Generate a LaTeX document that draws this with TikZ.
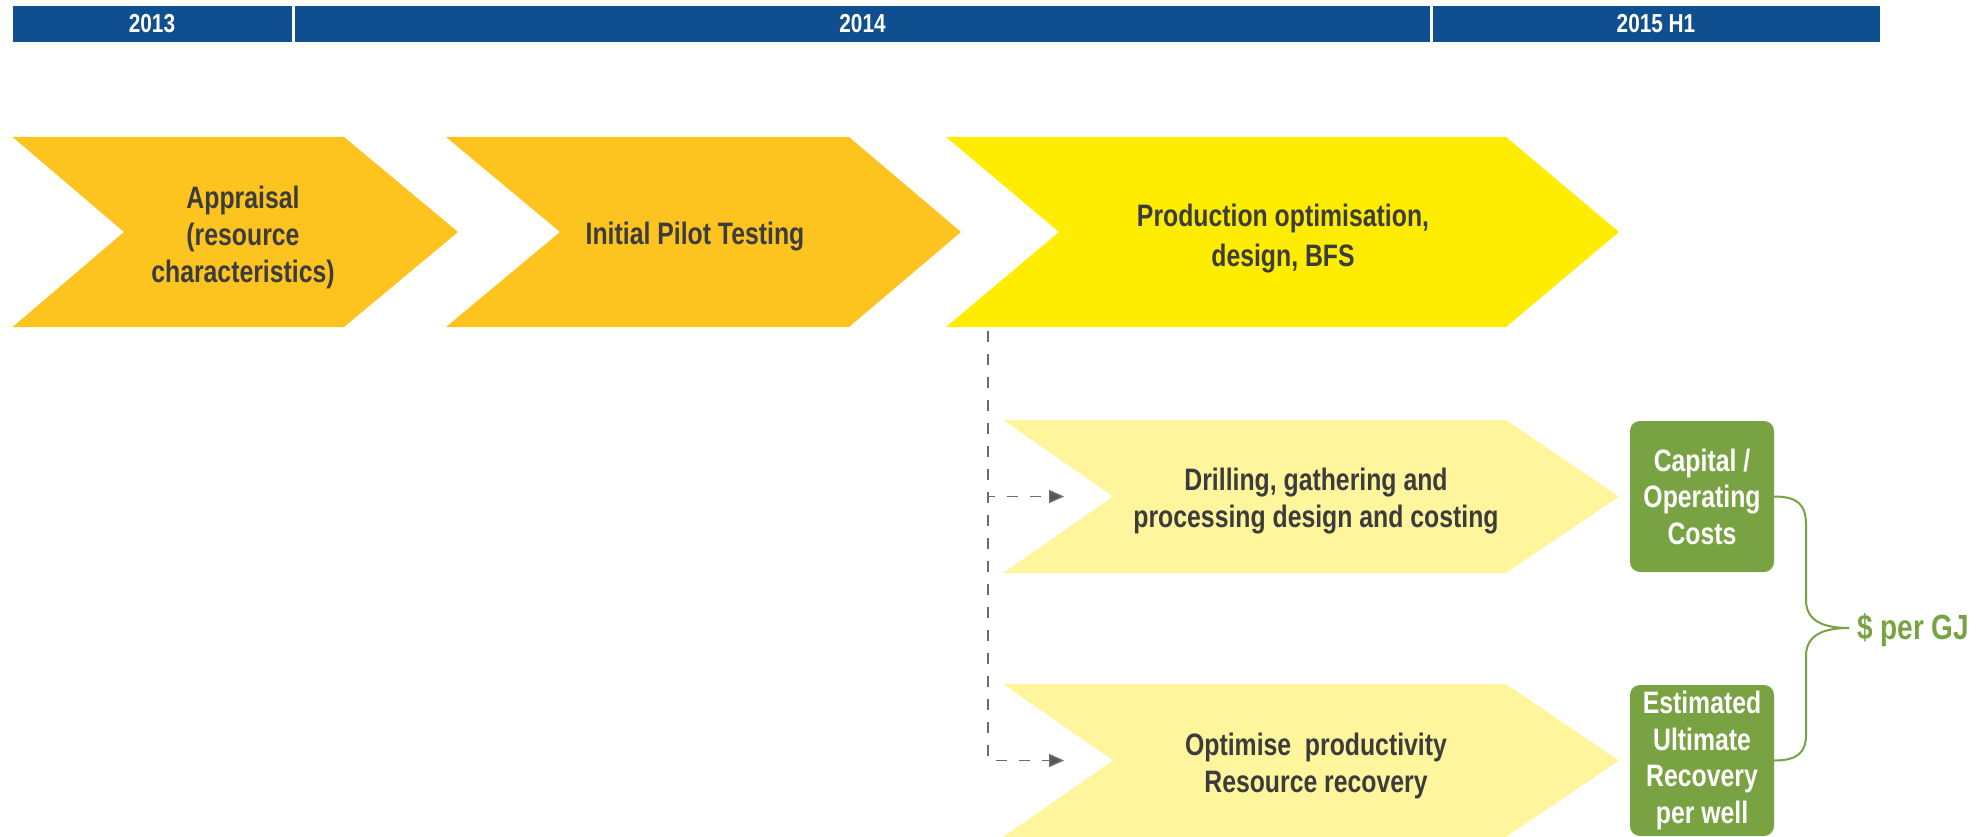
\documentclass[tikz,border=0pt]{standalone}
\usepackage{fontspec}
\setmainfont{Liberation Sans}[FakeStretch=0.80]
\usetikzlibrary{arrows.meta}
\definecolor{barblue}{HTML}{0F4F8F}
\definecolor{chevorange}{HTML}{FDC420}
\definecolor{chevyellow}{HTML}{FFED00}
\definecolor{chevlight}{HTML}{FFF59C}
\definecolor{boxgreen}{HTML}{79A342}
\definecolor{txtgray}{HTML}{3C3C3C}
\definecolor{dashgray}{HTML}{6A6A6A}
\definecolor{arrowgray}{HTML}{555555}
\begin{document}
\begin{tikzpicture}[x=1pt,y=-1pt,
  yearbar/.style={fill=barblue},
  yeartext/.style={text=white,font=\fontsize{26}{30}\selectfont\bfseries},
  steptext/.style={text=txtgray,align=center,font=\fontsize{31}{37}\selectfont\bfseries},
  greenbox/.style={fill=boxgreen,rounded corners=10pt,text=white,align=center,
    font=\fontsize{31}{36.5}\selectfont\bfseries,inner sep=0pt,
    minimum width=144pt,minimum height=151pt},
  dasharrow/.style={draw=dashgray,line width=1.6pt,dash pattern=on 11pt off 12pt,
    -{Triangle[length=15pt,width=13pt,fill=arrowgray]}},
  bracket/.style={draw=boxgreen,line width=2pt},
  pertext/.style={text=boxgreen,font=\fontsize{35}{38}\selectfont\bfseries,anchor=west,inner sep=0pt}
]
\useasboundingbox (0,0) rectangle (1983,837);
% year bar
\fill[yearbar] (12.6,6) rectangle (292,42);
\fill[yearbar] (295,6) rectangle (1430,42);
\fill[yearbar] (1433,6) rectangle (1880,42);
\node[yeartext] (y13) at (152,24) {2013};
\node[yeartext] (y14) at (862.5,24) {2014};
\node[yeartext] (y15) at (1656,24) {2015 H1};
% top chevrons
\fill[chevorange] (12.6,137) -- (344,137) -- (458,232) -- (344,327) -- (12.6,327) -- (124,232) -- cycle;
\fill[chevorange] (446,137) -- (849,137) -- (961,232) -- (849,327) -- (446,327) -- (560,232) -- cycle;
\fill[chevyellow] (946,137) -- (1506,137) -- (1619,232) -- (1506,327) -- (946,327) -- (1059,232) -- cycle;
\node[steptext] (app) at (243,237.5) {Appraisal\\(resource\\characteristics)};
\node[steptext] (ipt) at (695,237) {Initial Pilot Testing};
\node[steptext,font=\fontsize{31}{40}\selectfont\bfseries] (prod) at (1283,239) {Production optimisation,\\design, BFS};
% lower chevrons
\fill[chevlight] (1003,420) -- (1506,420) -- (1619,496.5) -- (1506,573) -- (1003,573) -- (1113,496.5) -- cycle;
\fill[chevlight] (1003,684) -- (1506,684) -- (1619,760.5) -- (1506,837) -- (1003,837) -- (1113,760.5) -- cycle;
\node[steptext] (drill) at (1316,501.5) {Drilling, gathering and\\processing design and costing};
\node[steptext] (opt) at (1316,765.5) {Optimise~ productivity\\Resource recovery};
% green boxes
\node[greenbox] (cap) at (1702,496.5) {Capital /\\Operating\\Costs};
\node[greenbox] (eur) at (1702,760.5) {Estimated\\Ultimate\\Recovery\\per well};
% bracket
\coordinate (tip) at (1849,628);
\node[pertext] (ppg) at (1857,630) {\$ per GJ};
\draw[bracket] (cap.east) .. controls (1798,496.5) and (1806,505) .. (1806,525) -- (1806,600)
  .. controls (1806,622) and (1825,628) .. (tip);
\draw[bracket] (eur.east) .. controls (1798,760.5) and (1806,752) .. (1806,735) -- (1806,656)
  .. controls (1806,634) and (1825,628) .. (tip);
% dashed connectors
\coordinate (dtop) at (988,331);
\coordinate (d1) at (1064,496.5);
\coordinate (d2) at (1064,760.5);
\draw[dasharrow] (dtop) |- (d1);
\draw[dasharrow] (dtop) |- (d2);
\end{tikzpicture}
\end{document}
